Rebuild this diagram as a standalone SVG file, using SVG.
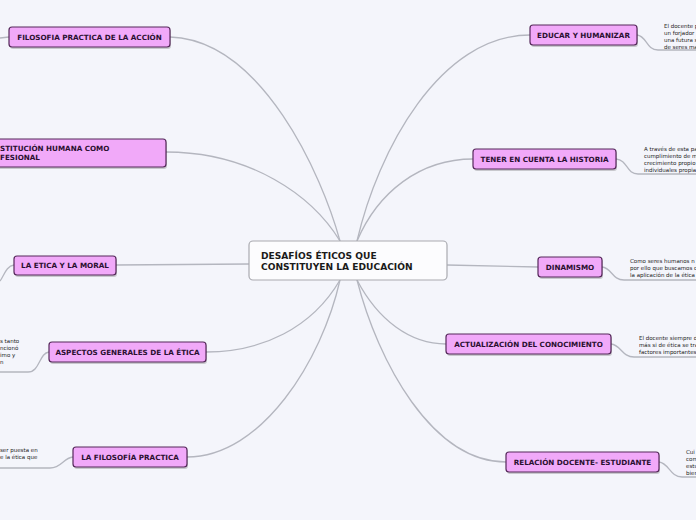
<svg xmlns="http://www.w3.org/2000/svg" width="696" height="520" viewBox="0 0 696 520">
<style>
.bg{fill:#f4f5fb}
.c{fill:none;stroke:#b4b6bf;stroke-width:1.3}
.n{fill:#f1a9f9;stroke:#55285a;stroke-width:1.2}
.sh{fill:#000;opacity:0.18}
.t{font-family:"DejaVu Sans",Verdana,sans-serif;font-weight:bold;font-size:7.2px;fill:#2a1030;text-anchor:middle}
.ct{font-family:"DejaVu Sans",Verdana,sans-serif;font-weight:bold;font-size:9.1px;fill:#1a1a1a}
.nt{font-family:"DejaVu Sans",Verdana,sans-serif;font-size:5.5px;fill:#222}
.tl{font-family:"DejaVu Sans",Verdana,sans-serif;font-weight:bold;font-size:7.2px;fill:#2a1030}
</style>
<rect class="bg" x="0" y="0" width="696" height="520"/>
<g id="connectors">
<path class="c" d="M340 241 C322 175 262 40 170 37"/>
<path class="c" d="M340 241 C312 195 250 152 166 152"/>
<path class="c" d="M249 264 L116 265"/>
<path class="c" d="M340 280 C312 328 262 352 206 352"/>
<path class="c" d="M340 280 C322 360 262 457 187 457"/>
<path class="c" d="M357 241 C378 150 440 35 530 35"/>
<path class="c" d="M357 241 C378 192 420 159 473 159"/>
<path class="c" d="M447 265 L538 267"/>
<path class="c" d="M357 280 C378 320 410 344 446 344"/>
<path class="c" d="M357 280 C378 362 432 462 506 462"/>
<path class="c" d="M637 35 C647 36 646 50 658 50 L696 50"/>
<path class="c" d="M616 159 C628 160 626 174 638 174 L696 174"/>
<path class="c" d="M602 267 C612 268 612 280 624 280 L696 280"/>
<path class="c" d="M611 344 C621 345 622 357 634 357 L696 357"/>
<path class="c" d="M659 462 C669 463 670 477 682 477 L696 477"/>
<path class="c" d="M9 37 L0 38"/>
<path class="c" d="M14 265 C6 266 4 276 0 281"/>
<path class="c" d="M49 352 C39 353 40 372 28 372 L0 372"/>
<path class="c" d="M73 457 C63 458 62 468 50 468 L0 468"/>
</g>
<g id="center">
<rect x="249" y="241" width="198" height="39" rx="4" fill="#fcfcfe" stroke="#a9aab0" stroke-width="1.2"/>
<text class="ct" x="261" y="259">DESAFÍOS ÉTICOS QUE</text>
<text class="ct" x="261" y="270">CONSTITUYEN LA EDUCACIÓN</text>
</g>
<g id="n1">
<rect class="sh" x="10" y="29" width="161" height="20" rx="3"/>
<rect class="n" x="9" y="27" width="161" height="20" rx="3"/>
<text class="t" x="89.5" y="39.5">FILOSOFIA PRACTICA DE LA ACCIÓN</text>
</g>
<g id="n2">
<rect class="sh" x="-9" y="141" width="176" height="28" rx="3"/>
<rect class="n" x="-10" y="139" width="176" height="28" rx="3"/>
<text class="tl" x="0" y="151">STITUCIÓN HUMANA COMO</text>
<text class="tl" x="0" y="160">FESIONAL</text>
</g>
<g id="n3">
<rect class="sh" x="15" y="258" width="102" height="19" rx="3"/>
<rect class="n" x="14" y="256" width="102" height="19" rx="3"/>
<text class="t" x="65" y="268">LA ETICA Y LA MORAL</text>
</g>
<g id="n4">
<rect class="sh" x="50" y="344" width="157" height="20" rx="3"/>
<rect class="n" x="49" y="342" width="157" height="20" rx="3"/>
<text class="t" x="127.5" y="354.5">ASPECTOS GENERALES DE LA ÉTICA</text>
<text class="nt" x="0" y="343">s tanto</text>
<text class="nt" x="0" y="350">ncionó</text>
<text class="nt" x="0" y="357">imo y</text>
<text class="nt" x="0" y="364">n</text>
</g>
<g id="n5">
<rect class="sh" x="74" y="449" width="114" height="20" rx="3"/>
<rect class="n" x="73" y="447" width="114" height="20" rx="3"/>
<text class="t" x="130" y="459.5">LA FILOSOFÍA PRACTICA</text>
<text class="nt" x="0" y="452">ser puesta en</text>
<text class="nt" x="0" y="459">e la ética que</text>
</g>
<g id="n6">
<rect class="sh" x="531" y="27" width="107" height="20" rx="3"/>
<rect class="n" x="530" y="25" width="107" height="20" rx="3"/>
<text class="t" x="583.5" y="37.5">EDUCAR Y HUMANIZAR</text>
<text class="nt" x="664" y="28">El docente p</text>
<text class="nt" x="664" y="35">un forjador</text>
<text class="nt" x="664" y="42">una futura s</text>
<text class="nt" x="664" y="49">de seres ma</text>
</g>
<g id="n7">
<rect class="sh" x="474" y="151" width="143" height="20" rx="3"/>
<rect class="n" x="473" y="149" width="143" height="20" rx="3"/>
<text class="t" x="544.5" y="161.5">TENER EN CUENTA LA HISTORIA</text>
<text class="nt" x="644" y="151">A través de esta pa</text>
<text class="nt" x="644" y="158">cumplimiento de m</text>
<text class="nt" x="644" y="165">crecimiento propio</text>
<text class="nt" x="644" y="172">individuales propia</text>
</g>
<g id="n8">
<rect class="sh" x="539" y="259" width="64" height="20" rx="3"/>
<rect class="n" x="538" y="257" width="64" height="20" rx="3"/>
<text class="t" x="570" y="269.5">DINAMISMO</text>
<text class="nt" x="630" y="263">Como seres humanos n</text>
<text class="nt" x="630" y="270">por ello que buscamos c</text>
<text class="nt" x="630" y="277">la aplicación de la ética</text>
</g>
<g id="n9">
<rect class="sh" x="447" y="336" width="165" height="20" rx="3"/>
<rect class="n" x="446" y="334" width="165" height="20" rx="3"/>
<text class="t" x="528.5" y="346.5">ACTUALIZACIÓN DEL CONOCIMIENTO</text>
<text class="nt" x="639" y="340">El docente siempre d</text>
<text class="nt" x="639" y="347">más si de ética se tra</text>
<text class="nt" x="639" y="354">factores importantes</text>
</g>
<g id="n10">
<rect class="sh" x="507" y="454" width="153" height="20" rx="3"/>
<rect class="n" x="506" y="452" width="153" height="20" rx="3"/>
<text class="t" x="582.5" y="464.5">RELACIÓN DOCENTE- ESTUDIANTE</text>
<text class="nt" x="686" y="454">Cui</text>
<text class="nt" x="686" y="461">com</text>
<text class="nt" x="686" y="468">estu</text>
<text class="nt" x="686" y="475">bien</text>
</g>
</svg>
